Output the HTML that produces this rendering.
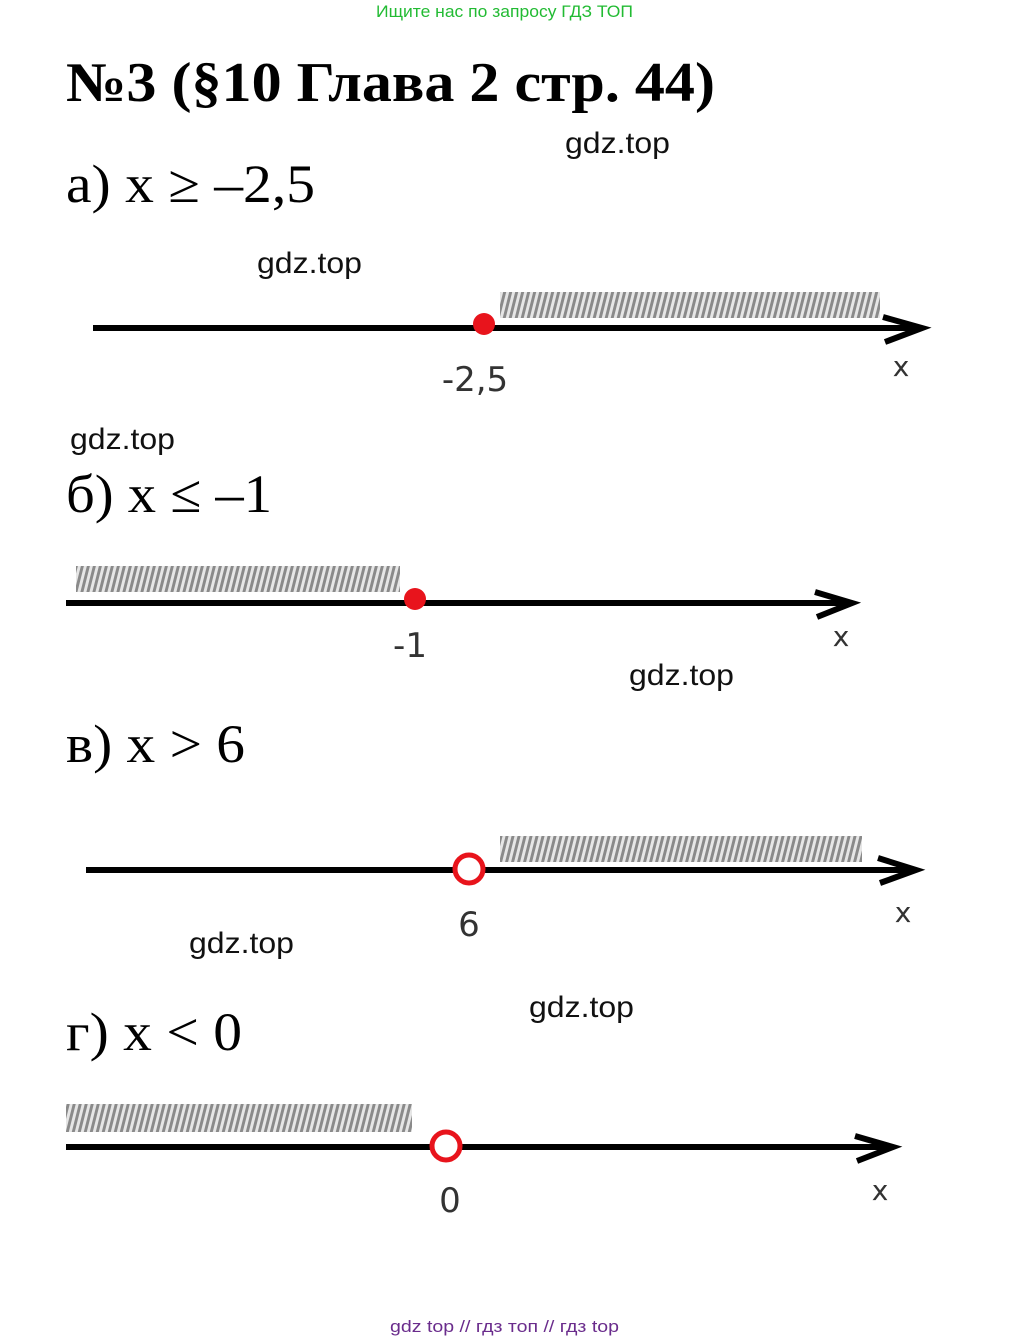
<!DOCTYPE html>
<html><head><meta charset="utf-8"><style>
html,body{margin:0;padding:0;background:#fff;width:1010px;height:1340px;overflow:hidden}
svg{display:block}
</style></head><body>
<svg width="1010" height="1340" viewBox="0 0 1010 1340" xmlns="http://www.w3.org/2000/svg">
<defs>
<pattern id="h" width="6" height="30" patternUnits="userSpaceOnUse" patternTransform="skewX(-14)">
<rect width="6" height="30" fill="#e6e6e6"/>
<rect x="0" width="3" height="30" fill="#8a8a8a"/>
</pattern>
</defs>
<g font-family="Liberation Sans, sans-serif">
<text x="376" y="17" font-size="17" fill="#22bb33" textLength="257" lengthAdjust="spacingAndGlyphs">Ищите нас по запросу ГДЗ ТОП</text>
<text x="390" y="1332" font-size="17" fill="#6a2c8c" textLength="229" lengthAdjust="spacingAndGlyphs">gdz top  //  гдз топ  //  гдз top</text>
<g font-size="30" fill="#111">
<text x="565" y="153" textLength="105" lengthAdjust="spacingAndGlyphs">gdz.top</text>
<text x="257" y="273" textLength="105" lengthAdjust="spacingAndGlyphs">gdz.top</text>
<text x="70" y="449" textLength="105" lengthAdjust="spacingAndGlyphs">gdz.top</text>
<text x="629" y="685" textLength="105" lengthAdjust="spacingAndGlyphs">gdz.top</text>
<text x="189" y="953" textLength="105" lengthAdjust="spacingAndGlyphs">gdz.top</text>
<text x="529" y="1017" textLength="105" lengthAdjust="spacingAndGlyphs">gdz.top</text>
</g>
</g>
<g font-family="Liberation Serif, serif" fill="#000">
<text x="66" y="101" font-size="56" font-weight="bold" textLength="649" lengthAdjust="spacingAndGlyphs">№3 (§10 Глава 2  стр. 44)</text>
<text x="66" y="202" font-size="54" textLength="249" lengthAdjust="spacingAndGlyphs">а) x ≥ –2,5</text>
<text x="66" y="512" font-size="54" textLength="206" lengthAdjust="spacingAndGlyphs">б) x ≤ –1</text>
<text x="66" y="762" font-size="54" textLength="179" lengthAdjust="spacingAndGlyphs">в) x &gt; 6</text>
<text x="66" y="1050" font-size="54" textLength="176" lengthAdjust="spacingAndGlyphs">г) x &lt; 0</text>
</g>
<!-- a -->
<rect x="500" y="292" width="380" height="26" fill="url(#h)"/>
<line x1="93" y1="328" x2="922" y2="328" stroke="#000" stroke-width="6"/>
<polyline points="883,317 922,328 885,342" fill="none" stroke="#000" stroke-width="6"/>
<circle cx="484" cy="324" r="11" fill="#e8141c"/>
<!-- b -->
<rect x="76" y="566" width="324" height="26" fill="url(#h)"/>
<line x1="66" y1="603" x2="852" y2="603" stroke="#000" stroke-width="6"/>
<polyline points="815,592 852,603 817,617" fill="none" stroke="#000" stroke-width="6"/>
<circle cx="415" cy="599" r="11" fill="#e8141c"/>
<!-- c -->
<rect x="500" y="836" width="362" height="26" fill="url(#h)"/>
<line x1="86" y1="870" x2="916" y2="870" stroke="#000" stroke-width="6"/>
<polyline points="878,858 916,870 880,883" fill="none" stroke="#000" stroke-width="6"/>
<circle cx="469" cy="869" r="14" fill="#fff" stroke="#e8141c" stroke-width="5"/>
<!-- d -->
<rect x="66" y="1104" width="346" height="28" fill="url(#h)"/>
<line x1="66" y1="1147" x2="893" y2="1147" stroke="#000" stroke-width="6"/>
<polyline points="855,1136 893,1147 857,1161" fill="none" stroke="#000" stroke-width="6"/>
<circle cx="446" cy="1146" r="14" fill="#fff" stroke="#e8141c" stroke-width="5"/>
<g font-family="DejaVu Sans, sans-serif" fill="#333" font-size="34" text-anchor="middle">
<text x="475" y="391">-2,5</text>
<text x="410" y="657">-1</text>
<text x="469" y="936">6</text>
<text x="450" y="1212">0</text>
<g font-size="28">
<text x="901" y="376">x</text>
<text x="841" y="646">x</text>
<text x="903" y="922">x</text>
<text x="880" y="1200">x</text>
</g>
</g>
</svg>
</body></html>
